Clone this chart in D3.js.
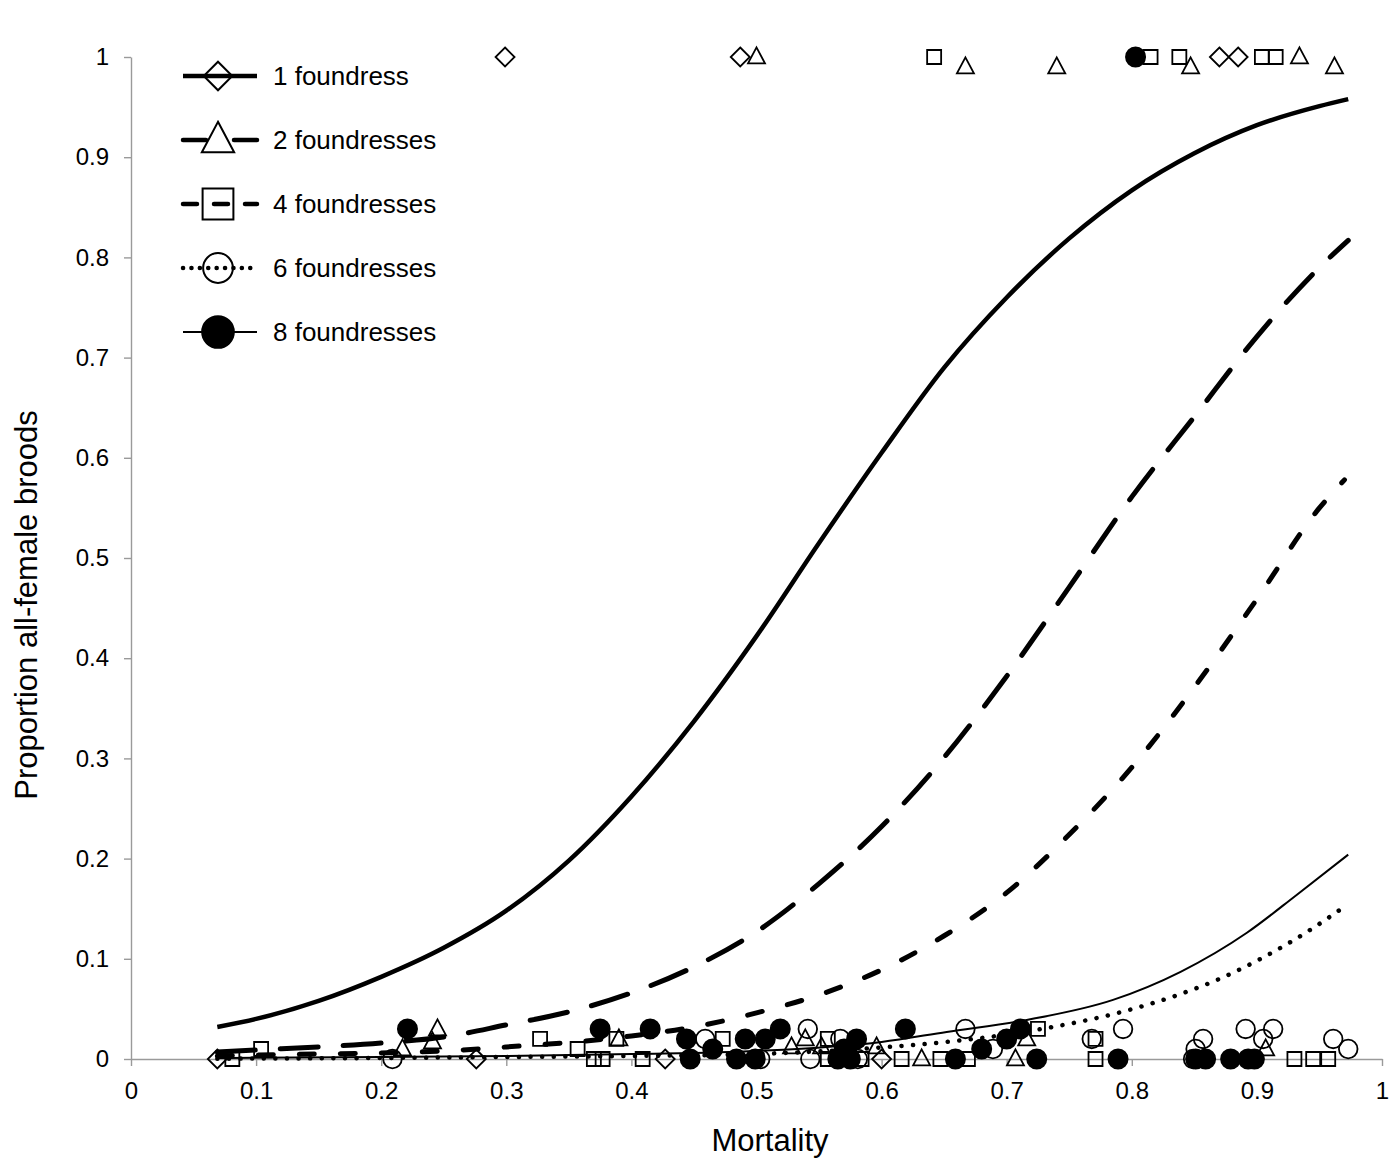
<!DOCTYPE html>
<html>
<head>
<meta charset="utf-8">
<script src="https://cdnjs.cloudflare.com/ajax/libs/d3/7.8.5/d3.min.js"></script>
<style>
  body { margin: 0; background: #fff; }
  svg text { font-family: Arial, "Liberation Sans", sans-serif; fill: #000; }
</style>
</head>
<body>
<div class="chart"></div>
<script>
var width = 1389;
var height = 1162;

// group names, in legend order
var groups = ["1 foundress", "2 foundresses", "4 foundresses", "6 foundresses", "8 foundresses"];
var xTicks = [0, 0.1, 0.2, 0.3, 0.4, 0.5, 0.6, 0.7, 0.8, 0.9, 1];
var yTicks = [0, 0.1, 0.2, 0.3, 0.4, 0.5, 0.6, 0.7, 0.8, 0.9, 1];

// observed broods: [mortality, proportion all-female]
var obs1 = [[0.069,0],[0.276,0],[0.299,1],[0.427,0],[0.487,1],[0.600,0],[0.870,1],[0.885,1]];
var obs2 = [[0.217,0.01],[0.241,0.017],[0.245,0.03],[0.390,0.02],[0.500,1],[0.528,0.012],[0.539,0.02],
  [0.552,0.012],[0.596,0.012],[0.632,0],[0.667,0.99],[0.707,0],[0.716,0.02],[0.740,0.99],[0.847,0.99],
  [0.907,0.01],[0.934,1],[0.962,0.99]];
var obs4 = [[0.081,0],[0.104,0.01],[0.327,0.02],[0.357,0.01],[0.370,0],[0.377,0],[0.388,0.02],[0.409,0],
  [0.473,0.02],[0.557,0.02],[0.557,0],[0.584,0],[0.616,0],[0.642,1],[0.647,0],[0.669,0],[0.725,0.03],
  [0.771,0.02],[0.771,0],[0.815,1],[0.838,1],[0.904,1],[0.915,1],[0.930,0],[0.945,0],[0.957,0]];
var obs6 = [[0.209,0],[0.459,0.02],[0.503,0],[0.541,0.03],[0.543,0],[0.567,0.02],[0.581,0],[0.667,0.03],
  [0.689,0.01],[0.768,0.02],[0.793,0.03],[0.849,0],[0.851,0.01],[0.857,0.02],[0.891,0.03],[0.905,0.02],
  [0.913,0.03],[0.961,0.02],[0.973,0.01]];
var obs8 = [[0.221,0.03],[0.375,0.03],[0.415,0.03],[0.444,0.02],[0.447,0],[0.465,0.01],[0.484,0],[0.491,0.02],
  [0.499,0],[0.507,0.02],[0.519,0.03],[0.565,0],[0.570,0.01],[0.575,0],[0.580,0.02],[0.619,0.03],[0.659,0],
  [0.680,0.01],[0.700,0.02],[0.711,0.03],[0.724,0],[0.789,0],[0.803,1],[0.851,0],[0.859,0],[0.879,0],
  [0.893,0],[0.898,0]];

// fitted curves
var fit1 = [[0.069,0.032],[0.1,0.040],[0.15,0.058],[0.2,0.082],[0.25,0.111],[0.3,0.148],[0.35,0.198],
  [0.4,0.262],[0.45,0.337],[0.5,0.422],[0.55,0.515],[0.6,0.605],[0.65,0.690],[0.7,0.760],[0.75,0.819],
  [0.8,0.867],[0.85,0.904],[0.9,0.932],[0.95,0.951],[0.973,0.958]];
var fit2 = [[0.069,0.007],[0.1,0.009],[0.15,0.012],[0.2,0.016],[0.25,0.022],[0.3,0.034],[0.35,0.047],
  [0.4,0.066],[0.45,0.092],[0.5,0.127],[0.55,0.175],[0.6,0.232],[0.65,0.301],[0.7,0.382],[0.75,0.471],
  [0.8,0.561],[0.85,0.641],[0.9,0.721],[0.95,0.790],[0.973,0.817]];
var fit3 = [[0.069,0.003],[0.1,0.004],[0.15,0.005],[0.2,0.006],[0.25,0.008],[0.3,0.012],[0.35,0.0165],
  [0.4,0.023],[0.45,0.032],[0.5,0.046],[0.55,0.064],[0.6,0.089],[0.65,0.123],[0.7,0.166],[0.75,0.224],
  [0.8,0.291],[0.85,0.371],[0.9,0.459],[0.95,0.550],[0.97,0.578]];
var fit4 = [[0.069,0.0003],[0.2,0.001],[0.3,0.002],[0.4,0.003],[0.5,0.005],[0.605,0.012],[0.652,0.017],
  [0.728,0.030],[0.792,0.047],[0.837,0.064],[0.872,0.081],[0.906,0.102],[0.939,0.126],[0.970,0.152]];
var fit5 = [[0.069,0.001],[0.2,0.002],[0.3,0.003],[0.4,0.005],[0.5,0.008],[0.6,0.017],[0.652,0.027],
  [0.716,0.039],[0.785,0.059],[0.839,0.087],[0.892,0.126],[0.932,0.164],[0.973,0.204]];

var svg = d3.select(".chart").append("svg")
    .attr("width", width)
    .attr("height", height);

var x = d3.scaleLinear().domain([0, 1]).range([131, 1382]);
var y = d3.scaleLinear().domain([0, 1]).range([1059, 57]);

var axisColor = "#9a9a9a";

// axes
var xAxis = svg.append("g")
    .attr("transform", "translate(0,1059)")
    .call(d3.axisBottom(x).tickValues(xTicks).tickSize(7).tickSizeOuter(0).tickPadding(16)
      .tickFormat(function(d) { return String(d); }));
var yAxis = svg.append("g")
    .attr("transform", "translate(131,0)")
    .call(d3.axisLeft(y).tickValues(yTicks).tickSize(7).tickSizeOuter(0).tickPadding(15)
      .tickFormat(function(d) { return String(d); }));
[xAxis, yAxis].forEach(function(g) {
  g.select(".domain").attr("stroke", axisColor).attr("stroke-width", 1.4);
  g.selectAll(".tick line").attr("stroke", axisColor).attr("stroke-width", 1.4);
  g.selectAll(".tick text").attr("font-size", 24).attr("font-family", "Arial, 'Liberation Sans', sans-serif");
});

svg.append("text")
    .attr("x", 770).attr("y", 1151)
    .attr("text-anchor", "middle")
    .attr("font-size", 31)
    .text("Mortality");
svg.append("text")
    .attr("transform", "translate(37,605) rotate(-90)")
    .attr("text-anchor", "middle")
    .attr("font-size", 31)
    .text("Proportion all-female broods");

// line styles for each group
var styles = [
  {w: 4.5, dash: null, legendDash: null},
  {w: 5, dash: "38 25", legendDash: "23 28"},
  {w: 5, dash: "15 26", legendDash: "14 17"},
  {w: 4.5, dash: "0.1 11.5", legendDash: "0.1 8.3"},
  {w: 2, dash: null, legendDash: null}
];

var line = d3.line()
    .x(function(d) { return x(d[0]); })
    .y(function(d) { return y(d[1]); })
    .curve(d3.curveMonotoneX);

var fits = [fit1, fit2, fit3, fit4, fit5];
fits.forEach(function(f, i) {
  svg.append("path")
    .datum(f)
    .attr("d", line)
    .attr("fill", "none")
    .attr("stroke", "#000")
    .attr("stroke-width", styles[i].w)
    .attr("stroke-linecap", styles[i].dash ? "round" : "butt")
    .attr("stroke-dasharray", styles[i].dash);
});

// marker shapes, s = size scale
var shapes = [
  function(s) { var r = 9.5 * s; return "M0," + (-r) + "L" + r + ",0L0," + r + "L" + (-r) + ",0Z"; },
  function(s) { var hw = 8.5 * s, h = 16 * s; return "M0," + (-h * 0.6) + "L" + hw + "," + (h * 0.4) + "L" + (-hw) + "," + (h * 0.4) + "Z"; },
  function(s) { var r = 7 * s; return "M" + (-r) + "," + (-r) + "H" + r + "V" + r + "H" + (-r) + "Z"; },
  function(s) { var r = 9.3 * s; return "M" + r + ",0A" + r + "," + r + " 0 1,1 " + (-r) + ",0A" + r + "," + r + " 0 1,1 " + r + ",0Z"; },
  function(s) { var r = 9.6 * s; return "M" + r + ",0A" + r + "," + r + " 0 1,1 " + (-r) + ",0A" + r + "," + r + " 0 1,1 " + r + ",0Z"; }
];
var filled = [false, false, false, false, true];

var obs = [obs1, obs2, obs4, obs6, obs8];
obs.forEach(function(data, i) {
  svg.append("g").selectAll("path")
    .data(data)
    .enter().append("path")
      .attr("transform", function(d) { return "translate(" + x(d[0]) + "," + y(d[1]) + ")"; })
      .attr("d", shapes[i](1))
      .attr("fill", filled[i] ? "#000" : "none")
      .attr("stroke", "#000")
      .attr("stroke-width", 1.8);
});

// legend
var legendScale = [1.5, 1.9, 2.2, 1.6, 1.65];
var legend = svg.append("g").selectAll("g")
    .data(groups)
    .enter().append("g")
      .attr("transform", function(d, i) { return "translate(0," + (76 + i * 64) + ")"; });

legend.append("line")
    .attr("x1", 183).attr("x2", 257)
    .attr("stroke", "#000")
    .attr("stroke-width", function(d, i) { return styles[i].w === 2 ? 2 : 4.5; })
    .attr("stroke-linecap", function(d, i) { return styles[i].legendDash ? "round" : "butt"; })
    .attr("stroke-dasharray", function(d, i) { return styles[i].legendDash; });

legend.append("path")
    .attr("transform", "translate(218,0)")
    .attr("d", function(d, i) { return shapes[i](legendScale[i]); })
    .attr("fill", function(d, i) { return filled[i] ? "#000" : "none"; })
    .attr("stroke", "#000")
    .attr("stroke-width", 2);

legend.append("text")
    .attr("x", 273)
    .attr("dy", "0.35em")
    .attr("font-size", 26)
    .text(function(d) { return d; });
</script>
</body>
</html>
